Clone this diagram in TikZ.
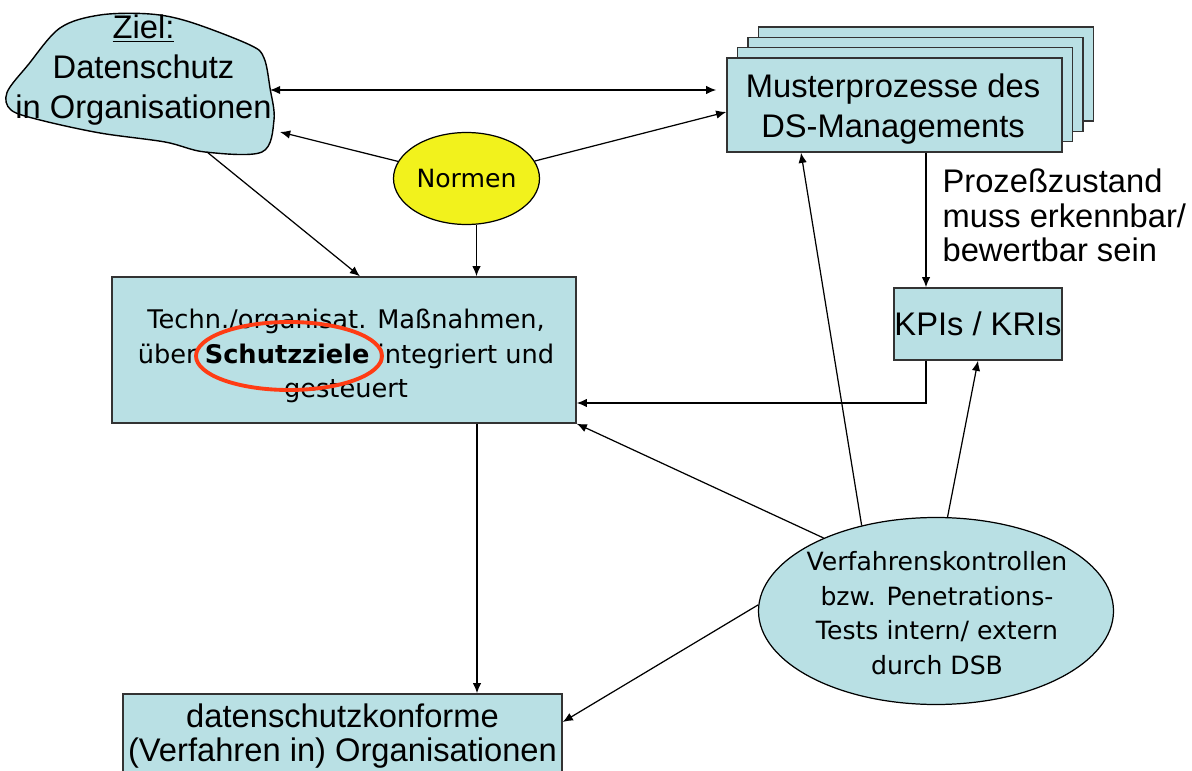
\documentclass[tikz,border=0pt]{standalone}
\usepackage{fontspec}
\setmainfont{Liberation Sans}
\newfontfamily\tahoma{DejaVu Sans}
\usetikzlibrary{arrows.meta,shapes.geometric}
\definecolor{boxblau}{RGB}{185,224,228}
\definecolor{normgelb}{RGB}{242,242,28}
\definecolor{kreisrot}{RGB}{255,60,20}

\begin{document}
\begin{tikzpicture}[>={Latex[length=5.8pt,width=4.8pt]}, line width=0.7pt,
  box/.style={draw=black!80, fill=boxblau, line width=0.8pt, inner sep=0pt, align=center},
  gross/.style={font=\fontsize{18.6}{22.6}\selectfont},
  klein/.style={font=\tahoma\fontsize{14.3}{19.6}\selectfont}]
\useasboundingbox (0,0) rectangle (23.84,-15.42);
\clip (0,0) rectangle (23.84,-15.42);
% Wolke
\draw[fill=boxblau, line width=0.8pt] plot[smooth cycle, tension=0.55] coordinates {
  (0.14,-1.85) (0.56,-1.30) (1.20,-0.56) (2.00,-0.30) (3.00,-0.28) (3.80,-0.44)
  (5.00,-0.90) (5.28,-1.16) (5.40,-1.76) (5.48,-2.40) (5.24,-3.04) (4.10,-3.04)
  (3.30,-2.84) (2.00,-2.66) (0.80,-2.40) (0.22,-2.20)};
\node (ziel) [gross, align=center, inner sep=0pt] at (2.87,-1.40) {\underline{Ziel:}\\Datenschutz\\in Organisationen};
\coordinate (zielO) at (5.40,-1.80);
\coordinate (zielN) at (5.60,-2.64);
\coordinate (zielS) at (4.14,-3.04);
% Musterprozesse (Stapel)
\foreach \i in {3,2,1}
  \draw[box] ({14.54+0.21*\i},{-3.04+0.206*\i}) rectangle ++(6.70,1.88);
\node (muster) [box, minimum width=6.70cm, minimum height=1.88cm] at (17.89,-2.10) {};
\node (mustertext) [gross, align=center, inner sep=0pt] at (17.86,-2.18) {Musterprozesse des\\DS-Managements};
\node (zustand) [font=\fontsize{18.6}{19.6}\selectfont, align=left, anchor=west, inner sep=0pt] at (18.84,-4.31) {Prozeßzustand\\muss erkennbar/\\bewertbar sein};
\node (kpi) [box, gross, minimum width=3.36cm, minimum height=1.44cm] at (19.56,-6.48) {KPIs / KRIs};
\node (normen) [draw, ellipse, fill=normgelb, klein, inner sep=0pt, minimum width=2.92cm, minimum height=1.84cm] at (9.33,-3.57) {Normen};
% Massnahmen
\node (massn) [box, minimum width=9.28cm, minimum height=2.92cm] at (6.88,-7.00) {};
\node (massntext) [font=\tahoma\fontsize{14.6}{19.6}\selectfont, align=center, inner sep=0pt] at (6.92,-7.12) {Techn./organisat. Maßnahmen,\\über \textbf{Schutzziele} integriert und\\gesteuert};
\node (kreis) [draw=kreisrot, ellipse, line width=2.2pt, minimum width=3.72cm, minimum height=1.36cm] at (5.78,-7.12) {};
\node (konform) [box, font=\fontsize{18.6}{19}\selectfont, minimum width=8.78cm, minimum height=1.68cm] at (6.85,-14.72) {datenschutzkonforme\\(Verfahren in) Organisationen};
% Kontrollen
\node (kontrolle) [draw, ellipse, fill=boxblau, minimum width=7.10cm, minimum height=3.74cm] at (18.72,-12.22) {};
\node (kontrolletext) [klein, align=center, inner sep=0pt] at (18.74,-12.26) {Verfahrenskontrollen\\bzw. Penetrations-\\Tests intern/ extern\\durch DSB};
\coordinate (normenfuss) at ([xshift=0.2cm]normen.south);
\coordinate (massnfuss) at ([xshift=2.66cm]massn.south);
\coordinate (kpikopf) at ([xshift=-1.04cm]kpi.north);
\draw[<->, shorten >=0.2cm] (zielO) -- (muster.west |- zielO);
\draw[->] (normen) -- (zielN);
\draw[->] (normen) -- ([yshift=-0.14cm]muster.west);
\draw[->] (normenfuss) -- (normenfuss |- massn.north);
\draw[->] (zielS) -- ([xshift=0.32cm]massn.north);
\draw[->] (kpikopf |- muster.south) -- (kpikopf);
\draw[->] ([xshift=-1.04cm]kpi.south) |- ([yshift=-1.06cm]massn.east);
\draw[->] (massnfuss) -- (massnfuss |- konform.north);
\draw[->] (kontrolle.131) -- ([xshift=-1.87cm]muster.south);
\draw[->] (kontrolle.83) -- (kpi.south);
\draw[->] (kontrolle.147) -- (massn.south east);
\draw[->] (kontrolle.178) -- ([yshift=0.28cm]konform.east);
\end{tikzpicture}
\end{document}
